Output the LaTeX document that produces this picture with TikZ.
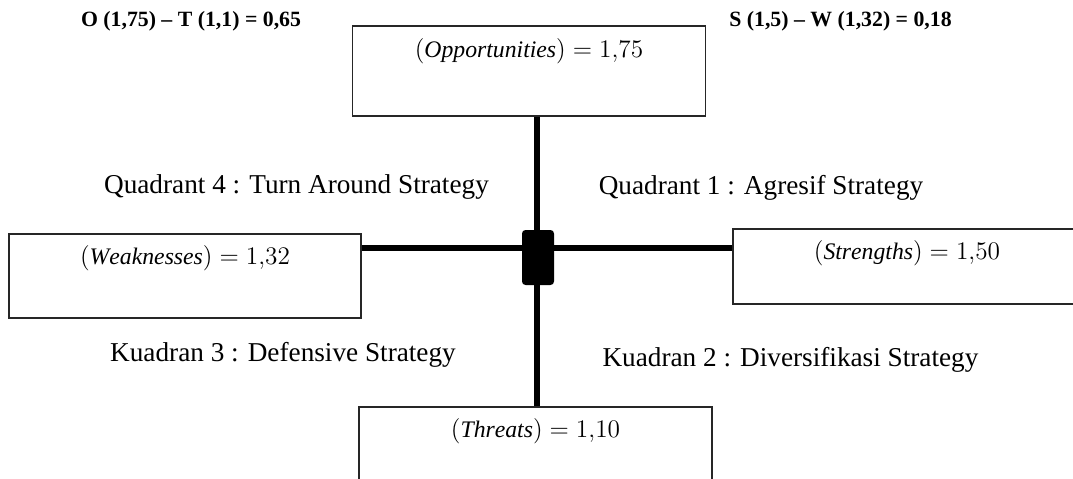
\documentclass[tikz,border=0pt]{standalone}
\usepackage{fontspec}
\setmainfont{Liberation Serif}
\begin{document}
\begin{tikzpicture}
[x=0.02cm,y=-0.02cm,
  boxdecorate/.style={shape=rectangle,draw=black!85,line width=0.8pt,inner sep=0pt},
  valuedecorate/.style={font=\fontsize{13.5}{16}\selectfont},
  quaddecorate/.style={font=\fontsize{15.5}{18}\selectfont},
  calcdecorate/.style={font=\bfseries\fontsize{12.4}{14}\selectfont},
  axisdecorate/.style={-,line width=3.2pt},
  centerdecorate/.style={shape=rectangle,fill=black,rounded corners=2pt,minimum width=0.64cm,minimum height=1.1cm,inner sep=0pt}]
\clip (0,0) rectangle (1073,478);
% boxes
\node (obox) at (529,71) [boxdecorate,minimum width=7.06cm,minimum height=1.8cm] {};
\node (wbox) at (185,276) [boxdecorate,minimum width=7.04cm,minimum height=1.68cm] {};
\node (sbox) at (907,266.5) [boxdecorate,minimum width=6.96cm,minimum height=1.5cm] {};
\node (tbox) at (535.5,457) [boxdecorate,minimum width=7.06cm,minimum height=2cm] {};
% values in the boxes
\node (oval) at ([yshift=-15pt]obox.north) [valuedecorate] {$(\mathit{Opportunities}) = 1{,}75$};
\node (wval) at ([yshift=-14pt]wbox.north) [valuedecorate] {$(\mathit{Weaknesses}) = 1{,}32$};
\node (sval) at ([yshift=-14pt]sbox.north) [valuedecorate] {$(\mathit{Strengths}) = 1{,}50$};
\node (tval) at ([yshift=-14pt]tbox.north) [valuedecorate] {$(\mathit{Threats}) = 1{,}10$};
% axes
\coordinate (c) at (537,248);
\draw[axisdecorate] (obox.south -| c) -- (tbox.north -| c);
\draw[axisdecorate] (wbox.east |- c) -- (sbox.west |- c);
\node (mid) at (538,257.5) [centerdecorate] {};
% labels
\node (ot) at (191,21) [calcdecorate] {O (1,75) -- T (1,1) = 0,65};
\node (sw) at (840.5,21) [calcdecorate] {S (1,5) -- W (1,32) = 0,18};
\node (q4) at (296.5,187) [quaddecorate] {Quadrant 4 : Turn Around Strategy};
\node (q1) at (761,188) [quaddecorate] {Quadrant 1 : Agresif Strategy};
\node (k3) at (283,355) [quaddecorate] {Kuadran 3 : Defensive Strategy};
\node (k2) at (790.5,360) [quaddecorate] {Kuadran 2 : Diversifikasi Strategy};
\end{tikzpicture}
\end{document}
